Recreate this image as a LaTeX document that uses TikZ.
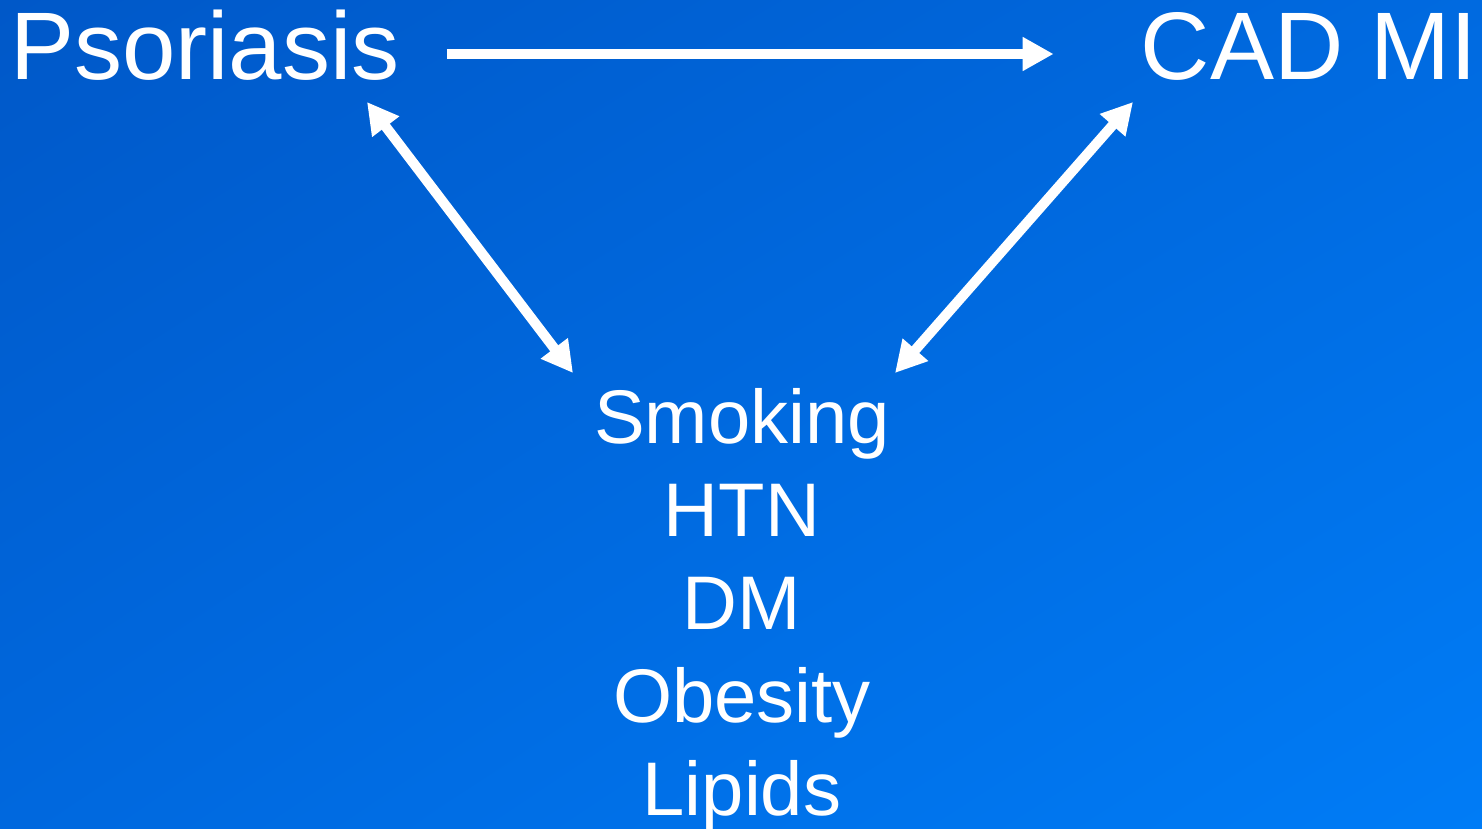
\documentclass[tikz,border=0pt]{standalone}
\usepackage{fontspec}
\setmainfont{Liberation Sans}
\usepackage{tikz}
\usetikzlibrary{arrows.meta,positioning,shadings}
\definecolor{bgTopLeft}{RGB}{0,88,200}
\definecolor{bgTopRight}{RGB}{0,106,224}
\definecolor{bgLowLeft}{RGB}{0,104,222}
\definecolor{bgLowRight}{RGB}{0,124,246}

\begin{document}
\begin{tikzpicture}[x=1pt,y=-1pt,
    bigtext/.style={text=white, inner sep=0pt, font=\fontsize{96}{110}\selectfont},
    risktext/.style={text=white, inner sep=0pt, align=center, font=\fontsize{76}{93}\selectfont},
    arr/.style={white, line width=10pt, -{Triangle[length=31pt,width=32pt]}},
    dblarr/.style={white, line width=10pt, {Triangle[length=31pt,width=32pt]}-{Triangle[length=31pt,width=32pt]}}]
    % background
    \useasboundingbox (0,0) rectangle (1482,829);
    \shade[upper left=bgTopLeft, upper right=bgTopRight, lower left=bgLowLeft, lower right=bgLowRight]
        (0,0) rectangle (1482,829);

    % the three items
    \node[bigtext, anchor=base west] (psor) at (10,80) {Psoriasis};
    \node[bigtext, anchor=base east] (cad) at (1477,80) {CAD MI};
    \node[risktext, anchor=base] (risk) at (742,815) {Smoking\\HTN\\DM\\Obesity\\Lipids};

    % arrow ends near the labels
    \coordinate (psorlow) at (367,102);
    \coordinate (cadlow) at (1133,102);
    \coordinate (riskleft) at (573,373);
    \coordinate (riskright) at (895,373);

    % links
    \draw[arr, shorten <=47pt, shorten >=87pt] ([yshift=26pt]psor.base east) -- ([yshift=26pt]cad.base west);
    \draw[dblarr] (psorlow) -- (riskleft);
    \draw[dblarr] (cadlow) -- (riskright);
\end{tikzpicture}
\end{document}
